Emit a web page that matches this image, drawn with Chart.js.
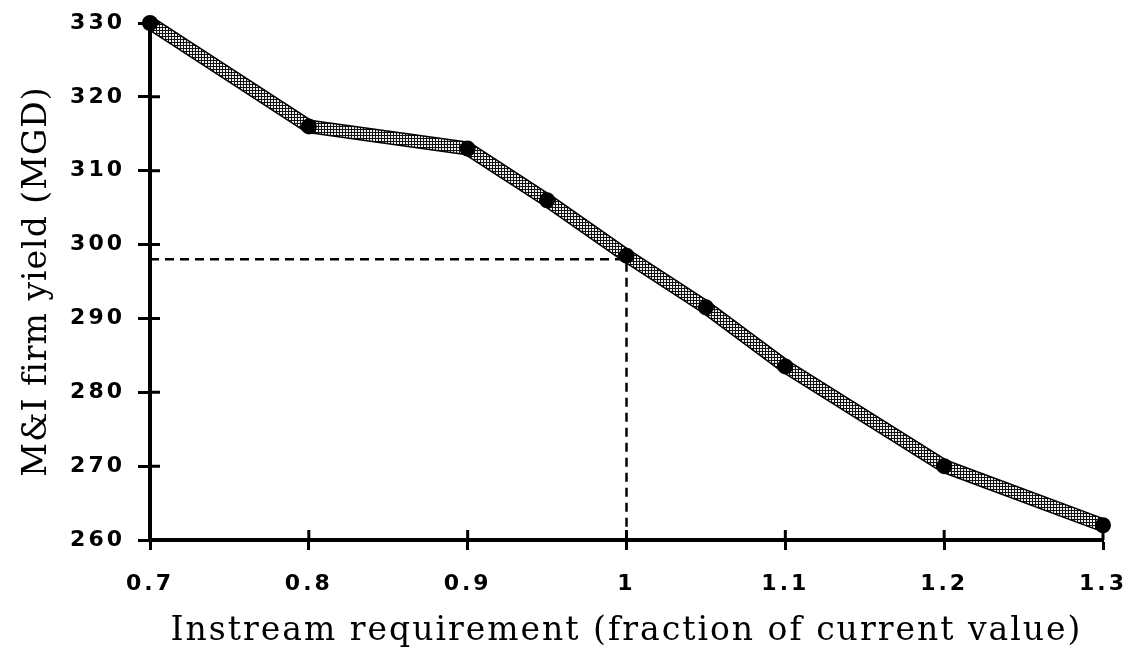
<!DOCTYPE html>
<html>
<head>
<meta charset="utf-8">
<script src="https://cdn.jsdelivr.net/npm/chart.js@4.4.1/dist/chart.umd.min.js"></script>
<style>
  html, body { margin: 0; padding: 0; background: #fff; }
  #wrap { width: 1130px; height: 657px; }
</style>
</head>
<body>
<div id="wrap"><canvas id="yieldChart" width="1130" height="657"></canvas></div>
<script>
// Chart data
const instream = [0.7, 0.8, 0.9, 0.95, 1.0, 1.05, 1.1, 1.2, 1.3];
const firmYield = [330, 316, 313, 306, 298.5, 291.5, 283.5, 270, 262];

// dashed guide at the current instream requirement
const guideX = [0.7, 1.0, 1.0];
const guideY = [298, 298, 260];

const xTicks = [0.7, 0.8, 0.9, 1, 1.1, 1.2, 1.3];
const yTicks = [260, 270, 280, 290, 300, 310, 320, 330];

const toPoints = (xs, ys) => xs.map((x, i) => ({ x, y: ys[i] }));

// halftone grey for the thick line
function halftone() {
    const c = document.createElement("canvas");
    c.width = 3;
    c.height = 3;
    const g = c.getContext("2d");
    g.fillStyle = "#111";
    g.fillRect(0, 0, 3, 3);
    g.fillStyle = "#eee";
    g.fillRect(1, 1, 2, 2);
    return g.createPattern(c, "repeat");
}

// short tick stubs pointing into the plot, so the ticks cross the axes
const innerTicks = {
    id: "innerTicks",
    afterDraw(chart) {
        const { ctx, chartArea, scales } = chart;
        ctx.save();
        ctx.strokeStyle = "#000";
        ctx.lineWidth = 3;
        ctx.beginPath();
        scales.x.ticks.forEach((t, i) => {
            const px = scales.x.getPixelForTick(i);
            ctx.moveTo(px, chartArea.bottom);
            ctx.lineTo(px, chartArea.bottom - 10);
        });
        scales.y.ticks.forEach((t, i) => {
            const py = scales.y.getPixelForTick(i);
            ctx.moveTo(chartArea.left, py);
            ctx.lineTo(chartArea.left + 10, py);
        });
        ctx.stroke();
        ctx.restore();
    },
};

const tickFont = { family: "'DejaVu Sans', sans-serif", size: 22, weight: "bold" };
const titleFont = { family: "'DejaVu Serif', serif", size: 33 };

const ctx = document.getElementById("yieldChart").getContext("2d");
const chart = new Chart(ctx, {
    type: "scatter",
    data: {
        datasets: [
            {
                label: "guide",
                data: toPoints(guideX, guideY),
                showLine: true,
                borderColor: "#000",
                borderWidth: 2.5,
                borderDash: [9, 6],
                pointRadius: 0,
                order: 3,
            },
            {
                label: "outline",
                data: toPoints(instream, firmYield),
                showLine: true,
                borderColor: "#000",
                borderWidth: 14,
                borderJoinStyle: "round",
                pointRadius: 0,
                order: 2,
            },
            {
                label: "M&I firm yield",
                data: toPoints(instream, firmYield),
                showLine: true,
                borderColor: halftone(),
                borderWidth: 11,
                borderJoinStyle: "round",
                pointRadius: 8,
                pointBackgroundColor: "#000",
                pointBorderColor: "#000",
                pointBorderWidth: 0,
                order: 1,
            },
        ],
    },
    options: {
        responsive: false,
        animation: false,
        clip: false,
        layout: {
            padding: { top: 23, right: 27, left: 0, bottom: 0 },
        },
        plugins: {
            legend: { display: false },
            tooltip: { enabled: false },
        },
        scales: {
            x: {
                type: "linear",
                min: 0.7,
                max: 1.3,
                afterBuildTicks: (scale) => {
                    scale.ticks = xTicks.map((v) => ({ value: v }));
                },
                afterFit: (scale) => {
                    scale.height = 117;
                    scale.paddingLeft = 0;
                    scale.paddingRight = 0;
                },
                grid: {
                    display: true,
                    drawOnChartArea: false,
                    tickLength: 10,
                    tickWidth: 3,
                    tickColor: "#000",
                },
                border: { display: true, color: "#000", width: 4 },
                ticks: {
                    color: "#000",
                    font: tickFont,
                    padding: 21,
                    maxRotation: 0,
                    callback: (v) => String(v),
                },
                title: {
                    display: true,
                    text: "Instream requirement (fraction of current value)",
                    color: "#000",
                    font: titleFont,
                    padding: { top: 0, bottom: 6 },
                },
            },
            y: {
                type: "linear",
                min: 260,
                max: 330,
                afterBuildTicks: (scale) => {
                    scale.ticks = yTicks.map((v) => ({ value: v }));
                },
                afterFit: (scale) => {
                    scale.width = 150;
                    scale.paddingTop = 0;
                    scale.paddingBottom = 0;
                },
                grid: {
                    display: true,
                    drawOnChartArea: false,
                    tickLength: 12,
                    tickWidth: 3,
                    tickColor: "#000",
                },
                border: { display: true, color: "#000", width: 4 },
                ticks: {
                    color: "#000",
                    font: tickFont,
                    padding: 13,
                },
                title: {
                    display: true,
                    text: "M&I firm yield (MGD)",
                    color: "#000",
                    font: titleFont,
                    padding: { top: 18, bottom: 0 },
                },
            },
        },
    },
    plugins: [innerTicks],
});

// spaced-out lettering like the scanned original
function spaced(scale, method, spacing) {
    const base = Object.getPrototypeOf(scale)[method];
    scale[method] = function (...args) {
        this.ctx.save();
        this.ctx.letterSpacing = spacing;
        base.apply(this, args);
        this.ctx.restore();
    };
}
spaced(chart.scales.x, "drawLabels", "3px");
spaced(chart.scales.y, "drawLabels", "3px");
spaced(chart.scales.x, "drawTitle", "2px");
spaced(chart.scales.y, "drawTitle", "1px");
chart.render();
</script>
</body>
</html>
